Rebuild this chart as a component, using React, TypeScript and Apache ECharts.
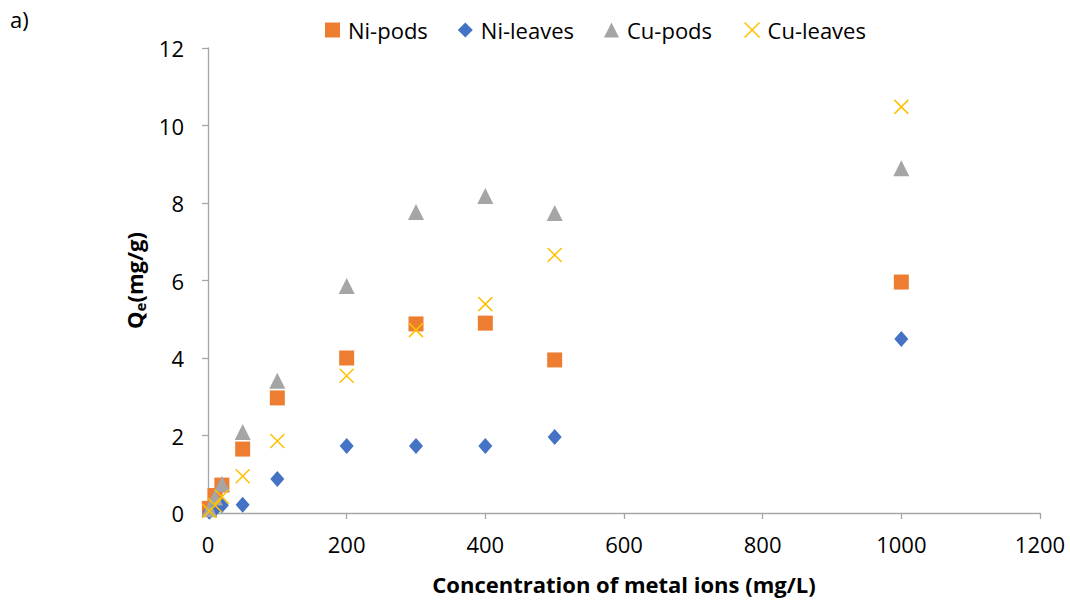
import React, { useEffect, useRef } from "react";
import * as echarts from "echarts";

const concentrations = [2, 10, 20, 50, 100, 200, 300, 400, 500, 1000];
const niPods = [0.12, 0.45, 0.72, 1.65, 2.97, 4.0, 4.88, 4.9, 3.95, 5.96];
const niLeaves = [0.03, 0.1, 0.2, 0.21, 0.88, 1.73, 1.73, 1.73, 1.96, 4.49];
const cuPods = [0.1, 0.4, 0.75, 2.09, 3.41, 5.86, 7.77, 8.18, 7.74, 8.9];
const cuLeaves = [0.05, 0.2, 0.42, 0.95, 1.86, 3.54, 4.72, 5.39, 6.66, 10.48];
const seriesNames = ["Ni-pods", "Ni-leaves", "Cu-pods", "Cu-leaves"];

const FONT = "'Open Sans', Lato, sans-serif";
const CROSS = "path://M0,0L10,10M10,0L0,10";

function pairs(ys: number[]) {
  return concentrations.map((x, i) => [x, ys[i]]);
}

export default function App() {
  const ref = useRef<HTMLDivElement>(null);
  useEffect(() => {
    document.body.style.margin = "0";
    const chart = echarts.init(ref.current!, null, { renderer: "svg" });
    const axisLine = { show: true, lineStyle: { color: "#A6A6A6", width: 1.3 } };
    const axisTick = { show: true, length: 6, lineStyle: { color: "#A6A6A6", width: 1.3 } };
    chart.setOption({
      animation: false,
      backgroundColor: "#fff",
      textStyle: { fontFamily: FONT },
      graphic: [
        {
          type: "text",
          left: 10,
          top: 8,
          style: { text: "a)", font: `22px ${FONT}`, fill: "#000" },
        },
      ],
      legend: {
        top: 14,
        left: 320,
        itemGap: 30,
        itemWidth: 15,
        itemHeight: 15,
        textStyle: { fontSize: 22, color: "#000", fontFamily: FONT, padding: [0, 0, 0, 3] },
        data: [
          { name: seriesNames[0], icon: "rect" },
          { name: seriesNames[1], icon: "diamond" },
          { name: seriesNames[2], icon: "triangle" },
          { name: seriesNames[3], icon: CROSS, itemStyle: { color: "none", borderColor: "#FFC000", borderWidth: 1.5 } },
        ],
      },
      grid: { left: 208, right: 30, top: 48, bottom: 90 },
      xAxis: {
        type: "value",
        min: 0,
        max: 1200,
        interval: 200,
        axisLine,
        axisTick,
        splitLine: { show: false },
        axisLabel: { fontSize: 22, color: "#000", margin: 20, fontFamily: FONT, formatter: (v: number) => String(v) },
        name: "Concentration of metal ions (mg/L)",
        nameLocation: "middle",
        nameGap: 60,
        nameTextStyle: { fontSize: 22, fontWeight: "bold", color: "#000", fontFamily: FONT },
      },
      yAxis: {
        type: "value",
        min: 0,
        max: 12,
        interval: 2,
        axisLine,
        axisTick,
        splitLine: { show: false },
        axisLabel: { fontSize: 22, color: "#000", margin: 24, fontFamily: FONT },
        name: "{q|Q}{s|e}{q|(mg/g)}",
        nameLocation: "middle",
        nameGap: 52,
        nameRotate: 90,
        nameTextStyle: {
          rich: {
            q: { fontSize: 22, fontWeight: "bold", color: "#000", fontFamily: FONT },
            s: { fontSize: 15, fontWeight: "bold", color: "#000", fontFamily: FONT, padding: [13, 0, 0, 0] },
          },
        },
      },
      series: [
        {
          name: seriesNames[0],
          type: "scatter",
          symbol: "rect",
          symbolSize: 15,
          itemStyle: { color: "#ED7D31", opacity: 1 },
          data: pairs(niPods),
        },
        {
          name: seriesNames[1],
          type: "scatter",
          symbol: "diamond",
          symbolSize: [14, 16],
          itemStyle: { color: "#4472C4", opacity: 1 },
          data: pairs(niLeaves),
        },
        {
          name: seriesNames[2],
          type: "scatter",
          symbol: "triangle",
          symbolSize: 16,
          itemStyle: { color: "#A5A5A5", opacity: 1 },
          data: pairs(cuPods),
        },
        {
          name: seriesNames[3],
          type: "scatter",
          symbol: CROSS,
          symbolSize: 14,
          itemStyle: { color: "none", borderColor: "#FFC000", borderWidth: 1.5, opacity: 1 },
          data: pairs(cuLeaves),
        },
      ],
    });
    return () => chart.dispose();
  }, []);
  return <div ref={ref} style={{ width: 1070, height: 603 }} />;
}
